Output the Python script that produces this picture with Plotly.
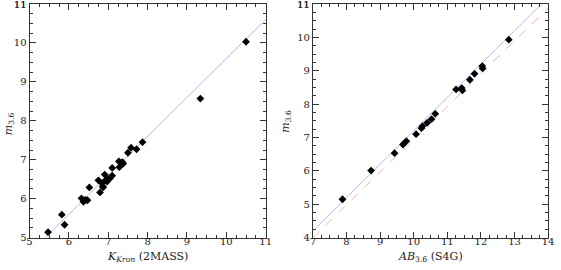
import plotly.graph_objects as go

# Left panel: K_Kron (2MASS) vs m_3.6
kkron = [5.47, 5.82, 5.89, 6.32, 6.37, 6.42, 6.47, 6.52, 6.75, 6.79, 6.84, 6.86, 6.87,
         6.91, 6.94, 6.97, 7.00, 7.04, 7.10, 7.10, 7.27, 7.28, 7.36, 7.38, 7.50, 7.58,
         7.72, 7.87, 9.34, 10.50]
m36_left = [5.14, 5.59, 5.33, 6.01, 5.92, 5.97, 5.96, 6.29, 6.47, 6.16, 6.40, 6.32, 6.29,
            6.62, 6.48, 6.44, 6.51, 6.52, 6.59, 6.79, 6.96, 6.81, 6.94, 6.90, 7.18, 7.31,
            7.27, 7.45, 8.57, 10.03]

# Right panel: AB_3.6 (S4G) vs m_3.6
ab36 = [7.88, 8.73, 9.43, 9.68, 9.78, 10.07, 10.23, 10.26, 10.40, 10.53, 10.64,
        11.26, 11.43, 11.45, 11.67, 11.81, 12.04, 12.05, 12.83]
m36_right = [5.15, 6.01, 6.53, 6.79, 6.89, 7.10, 7.28, 7.34, 7.44, 7.55, 7.71,
             8.44, 8.48, 8.41, 8.73, 8.91, 9.14, 9.07, 9.93]

# Reference lines
left_line_x = [5.0, 11.0]
left_line_y = [4.6, 10.6]
right_blue_x = [7.0, 14.0]
right_blue_y = [4.2, 11.2]
right_red_x = [7.0, 14.0]
right_red_y = [4.0, 10.88]

# Top y tick value (label drawn explicitly since the axis drops it at the edge)
y_top_left = 11
y_top_right = 11

FONT = "DejaVu Serif"
TXT = "#222"
fig = go.Figure()

fig.add_trace(go.Scatter(x=left_line_x, y=left_line_y, mode="lines",
                         line=dict(color="#b8b8f8", width=1), xaxis="x", yaxis="y",
                         showlegend=False))
fig.add_trace(go.Scatter(x=kkron, y=m36_left, mode="markers",
                         marker=dict(symbol="diamond", size=6, color="black"),
                         xaxis="x", yaxis="y", showlegend=False))
fig.add_trace(go.Scatter(x=right_blue_x, y=right_blue_y, mode="lines",
                         line=dict(color="#b8b8f8", width=1), xaxis="x2", yaxis="y2",
                         showlegend=False))
fig.add_trace(go.Scatter(x=right_red_x, y=right_red_y, mode="lines",
                         line=dict(color="#f8b4b4", width=1, dash="dash"), xaxis="x2", yaxis="y2",
                         showlegend=False))
fig.add_trace(go.Scatter(x=ab36, y=m36_right, mode="markers",
                         marker=dict(symbol="diamond", size=6, color="black"),
                         xaxis="x2", yaxis="y2", showlegend=False))

def ax(rng, domain, anchor, standoff=0):
    return dict(range=rng, domain=domain, anchor=anchor, showgrid=False, zeroline=False,
                showline=True, linecolor="#333", linewidth=1, mirror="ticks",
                ticks="inside", ticklen=6, tickcolor="#333", dtick=1,
                ticklabeloverflow="allow", ticklabelstandoff=standoff,
                tickfont=dict(family=FONT, size=10, color=TXT),
                minor=dict(ticks="inside", ticklen=3, dtick=0.25, tickcolor="#333", showgrid=False))

H = 280
fig.update_layout(
    width=561, height=H,
    margin=dict(l=0, r=0, t=14, b=0),
    plot_bgcolor="white", paper_bgcolor="white",
    xaxis=ax([5, 11], [0.0481, 0.4759], "y", -6),
    yaxis=ax([5, 11], [27 / 266, 1.0], "x"),
    xaxis2=ax([7, 14], [0.5615, 0.9875], "y2", -6),
    yaxis2=ax([4, 11], [27 / 266, 1.0], "x2"),
)

tf = dict(family=FONT, size=11, color=TXT)
fig.add_annotation(text="<i>K</i><sub><i>Kron</i></sub> (2MASS)", x=147 / 561, y=7 / 266,
                   xref="paper", yref="paper", showarrow=False, font=tf,
                   xanchor="center", yanchor="middle")
fig.add_annotation(text="<i>AB</i><sub>3.6</sub> (S4G)", x=434 / 561, y=7 / 266,
                   xref="paper", yref="paper", showarrow=False, font=tf,
                   xanchor="center", yanchor="middle")
fig.add_annotation(text="<i>m</i><sub>3.6</sub>", x=6 / 561, y=144 / 266,
                   xref="paper", yref="paper", showarrow=False, font=tf, textangle=-90,
                   xanchor="center", yanchor="middle")
fig.add_annotation(text="<i>m</i><sub>3.6</sub>", x=288 / 561, y=146 / 266,
                   xref="paper", yref="paper", showarrow=False, font=tf, textangle=-90,
                   xanchor="center", yanchor="middle")

# Top y tick labels
tickf = dict(family=FONT, size=10, color=TXT)
fig.add_annotation(text=str(y_top_left), x=0, y=y_top_left, xref="x domain", yref="y",
                   showarrow=False, font=tickf, xanchor="right", yanchor="middle", xshift=-1)
fig.add_annotation(text=str(y_top_right), x=0, y=y_top_right, xref="x2 domain", yref="y2",
                   showarrow=False, font=tickf, xanchor="right", yanchor="middle", xshift=-1)

fig.write_html("out.html", config={"displayModeBar": False},
               post_script="document.body.style.margin='0';document.body.style.overflow='hidden';"
                           "var g=document.querySelector('.plotly-graph-div');g.style.marginTop='-10px';"
                           "Plotly.newPlot(g, g.data, g.layout, {displayModeBar:false});")
